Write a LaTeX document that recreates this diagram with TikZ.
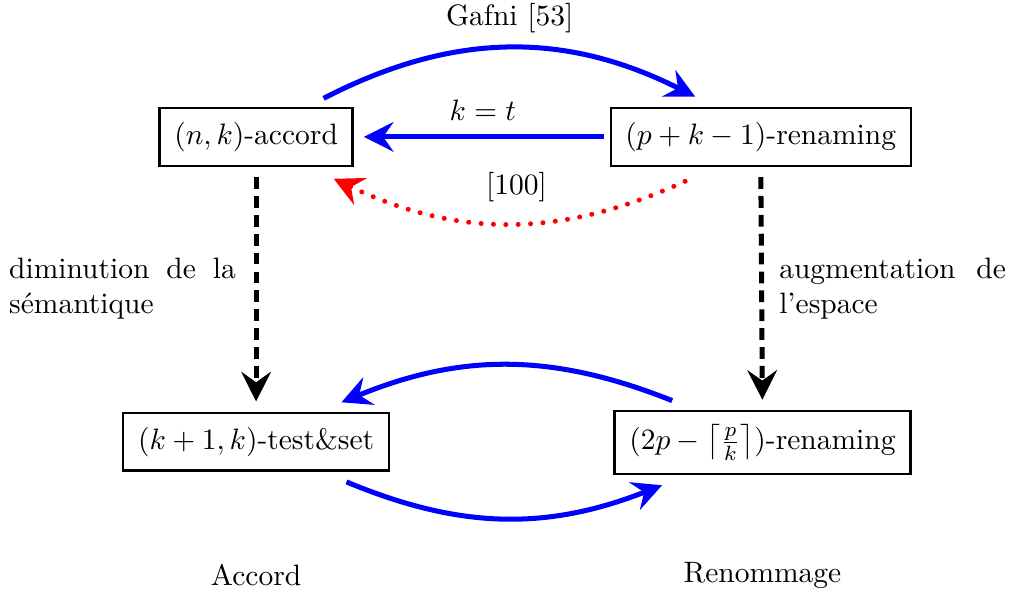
\documentclass[tikz,border=0pt]{standalone}
\usetikzlibrary{arrows.meta}

\begin{document}
\begin{tikzpicture}[
    box/.style={rectangle, draw, line width=0.8pt, align=center, minimum height=0.69cm, inner xsep=5pt, fill=white},
    tip/.style={-{Stealth[length=10pt, width=10pt, inset=3.5pt]}},
    bluearrow/.style={tip, draw=blue, line width=1.7pt},
    blackarrow/.style={tip, draw=black, line width=1.7pt, dash pattern=on 4pt off 2.4pt},
    redarrow/.style={tip, draw=red, line width=1.7pt, line cap=round, dash pattern=on 0pt off 4.2pt},
    side/.style={text width=2.70cm, align=justify, inner sep=0pt}
]
\useasboundingbox (0,0) rectangle (12.04,-7.05);

% Top row
\node[box, minimum width=2.24cm] (accord) at (3.05,-1.63) {$(n,k)$-accord};
\node[box, minimum width=3.55cm] (renam) at (9.06,-1.63) {$(p+k-1)$-renaming};

% Bottom row
\node[box, minimum width=3.10cm] (testset) at (3.05,-5.26) {$(k+1,k)$-test\&set};
\node[box, minimum width=3.43cm, minimum height=0.75cm, inner ysep=2pt] (renamtwo) at (9.08,-5.27) {$(2p-\left\lceil\frac{p}{k}\right\rceil)$-renaming};

% Labels
\node (gafni) at (6.07,-0.21) {Gafni [53]};
\node (keqt) at (5.75,-1.31) {$k=t$};
\node (ref100) at (6.15,-2.23) {[100]};
\node[side] (dimin) at (1.46,-3.44) {diminution de la s\'emantique};
\node[side] (augm) at (10.63,-3.44) {augmentation de l'espace};
\node (accordlbl) at (3.05,-6.85) {Accord};
\node (renomlbl) at (9.08,-6.85) {Renommage};

% Arrows between the top boxes
\draw[bluearrow] ([shift={(-0.36,0.10)}]accord.north east) to[bend left=27] ([shift={(1.02,0.12)}]renam.north west);
\draw[bluearrow, shorten <=0.06cm, shorten >=0.12cm] (renam.west) -- (accord.east);
\draw[redarrow] ([shift={(0.90,-0.17)}]renam.south west) to[bend left=25] ([shift={(-0.24,-0.14)}]accord.south east);

% Vertical arrows
\draw[blackarrow, shorten <=0.12cm, shorten >=0.12cm] (accord.south) -- (testset.north);
\draw[blackarrow, shorten <=0.12cm, shorten >=0.12cm] (renam.south) -- (renamtwo.north);

% Arrows between the bottom boxes
\draw[bluearrow] ([shift={(0.70,0.11)}]renamtwo.north west) to[bend right=22] ([shift={(-0.58,0.11)}]testset.north east);
\draw[bluearrow] ([shift={(-0.52,-0.12)}]testset.south east) to[bend right=22] ([shift={(0.58,-0.12)}]renamtwo.south west);

\end{tikzpicture}
\end{document}
